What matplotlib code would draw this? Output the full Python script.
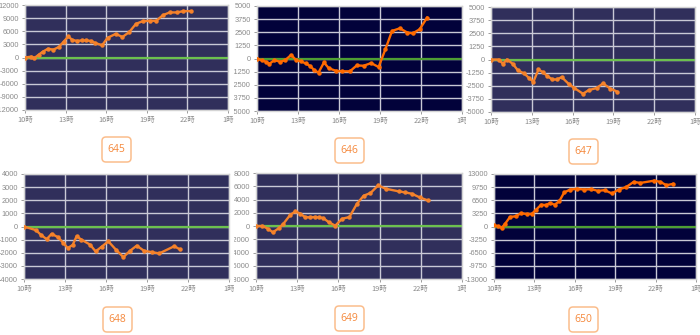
import numpy as np
import matplotlib
matplotlib.use("Agg")
import matplotlib.pyplot as plt
import matplotlib.transforms as mtransforms
from matplotlib.patches import FancyBboxPatch

# machine numbers
machines = ["645", "646", "647", "648", "649", "650"]

# hour of day (25 = 1時 next day) and balance for each machine
t645 = [10.0, 10.47, 10.7, 11.0, 11.3, 11.7, 12.1, 12.5, 12.85, 13.2, 13.5, 13.85, 14.2, 14.5, 14.85,
        15.2, 15.7, 16.1, 16.7, 17.2, 17.7, 18.2, 18.7, 19.2, 19.7, 20.2, 20.7, 21.2, 21.7, 22.27]
v645 = [0, 200, -100, 600, 1300, 2000, 1800, 2400, 3600, 4800, 4000, 3800, 3900, 3900, 3800,
        3300, 2800, 4500, 5400, 4700, 5800, 7700, 8300, 8400, 8400, 9700, 10300, 10300, 10600, 10600]

t646 = [10.0, 10.37, 10.66, 10.9, 11.28, 11.7, 12.06, 12.5, 12.87, 13.24, 13.56, 13.9, 14.2, 14.5, 14.9,
        15.26, 15.75, 16.2, 16.8, 17.3, 17.8, 18.35, 18.9, 19.4, 19.88, 20.45, 21.0, 21.4, 21.9, 22.45]
v646 = [0, -190, -310, -500, -160, -310, -160, 340, -160, -280, -470, -720, -1125, -1340, -375,
        -940, -1160, -1220, -1220, -660, -690, -440, -810, 900, 2625, 2875, 2470, 2400, 2780, 3900]

t647 = [10.0, 10.56, 10.88, 11.17, 11.6, 11.98, 12.44, 12.8, 13.12, 13.49, 13.8, 14.15, 14.5, 14.83,
        15.2, 15.7, 16.1, 16.76, 17.2, 17.76, 18.24, 18.78, 19.3]
v647 = [0, 0, -410, 0, -410, -1040, -1330, -1770, -2120, -950, -1200, -1580, -1900, -1900,
        -1680, -2310, -2690, -3260, -2910, -2720, -2280, -2780, -3070]

t648 = [10.0, 10.88, 11.22, 11.66, 12.02, 12.5, 12.88, 13.2, 13.56, 13.85, 14.2, 14.83, 15.24, 15.68,
        16.17, 16.73, 17.27, 17.76, 18.25, 18.78, 19.34, 19.9, 21.0, 21.4]
v648 = [0, -280, -620, -970, -560, -820, -1260, -1640, -1410, -740, -1000, -1380, -1900, -1540,
        -1130, -1770, -2330, -1850, -1460, -1850, -1950, -2050, -1500, -1740]

t649 = [10.0, 10.47, 10.86, 11.23, 11.65, 12.0, 12.5, 12.87, 13.24, 13.56, 13.93, 14.27, 14.6, 14.9,
        15.28, 15.77, 16.27, 16.8, 17.35, 17.84, 18.33, 18.9, 19.43, 20.42, 20.86, 21.35, 21.92, 22.5]
v649 = [0, 0, -400, -950, -350, 350, 1700, 2200, 1850, 1350, 1300, 1350, 1300, 1200,
        600, 50, 1100, 1350, 3350, 4570, 4970, 6130, 5630, 5220, 5070, 4870, 4320, 3870]

t650 = [10.0, 10.32, 10.57, 10.82, 11.19, 11.6, 12.0, 12.43, 12.8, 13.13, 13.5, 13.85, 14.17, 14.5,
        14.84, 15.21, 15.66, 16.15, 16.7, 17.22, 17.72, 18.21, 18.76, 19.26, 19.8, 20.37, 20.87,
        21.91, 22.36, 22.8, 23.28]
v650 = [250, 80, -330, 650, 2370, 2530, 3270, 3110, 3110, 4170, 5400, 5310, 5800, 5400,
        6210, 8420, 9160, 9320, 9160, 9240, 8830, 9000, 8180, 9160, 9730, 11040, 10790,
        11360, 11040, 10220, 10550]

y_limits = [12000, 5000, 5000, 4000, 8000, 13000]
x_hours = [10, 13, 16, 19, 22, 25]
x_labels = ["10時", "13時", "16時", "19時", "22時", "1時"]

times = [t645, t646, t647, t648, t649, t650]
values = [v645, v646, v647, v648, v649, v650]

# pixel boxes of the plot areas (left, top, right, bottom) and label boxes
W, H = 700, 335
plot_px = [(25, 5, 228, 110), (257, 6, 462, 111), (491, 7, 695, 112),
           (24, 174, 229, 279), (256, 173, 462, 279), (494, 174, 696, 279)]
box_px = [(102, 137), (335, 138), (569, 139), (103, 307), (335, 306), (569, 307)]
cell_px = [(0, 234), (234, 466), (465, 700), (0, 234), (234, 466), (465, 700)]
dark = [False, True, False, False, False, True]

jp = ["Noto Sans CJK JP", "DejaVu Sans"]

fig = plt.figure(figsize=(W / 100, H / 100), dpi=100)
fig.patch.set_facecolor("white")

for i in range(6):
    l, t, r, b = plot_px[i]
    ax = fig.add_axes([l / W, 1 - b / H, (r - l) / W, (b - t) / H])
    lim = y_limits[i]
    bg = "#02023a" if dark[i] else "#302f5b"
    lc = "#ff6a00" if dark[i] else "#f5822a"
    gc = "#4e9e34" if dark[i] else "#6cc04e"
    ax.set_facecolor(bg)
    ax.set_xlim(10, 25)
    ax.set_ylim(-lim, lim)
    ax.set_yticks(np.linspace(-lim, lim, 9))
    ax.set_yticklabels([str(int(v)) for v in np.linspace(-lim, lim, 9)], family="Liberation Sans")
    ax.set_xticks(x_hours)
    ax.set_xticklabels(x_labels, family=jp)
    ax.grid(True, color="#c9c9d6", lw=1.0)
    ax.set_axisbelow(True)
    ax.axhline(0, color=gc, lw=1.6, zorder=2)
    ax.plot(times[i], values[i], color=lc, lw=1.7, marker="o", ms=2.2, zorder=3)
    ax.tick_params(labelsize=5.3, colors="#8a8a8a", length=2.2, width=0.6, pad=2.2)
    for s in ax.spines.values():
        s.set_color("#d4d4d4")
        s.set_linewidth(1.0)

    # clip tick labels to their page cell
    c0, c1 = cell_px[i]
    clip = mtransforms.Bbox([[c0, 0], [c1, H]])
    for lbl in ax.get_yticklabels() + ax.get_xticklabels():
        lbl.set_clip_box(clip)
        lbl.set_clip_on(True)

    # machine number box
    bx, by = box_px[i]
    patch = FancyBboxPatch((bx, H - by - 25), 29, 25,
                           boxstyle="round,pad=0,rounding_size=4",
                           transform=mtransforms.IdentityTransform(),
                           facecolor="white", edgecolor="#fbbd8c", lw=1.1)
    fig.patches.append(patch)
    fig.text((bx + 14.5) / W, 1 - (by + 12.5) / H, machines[i], color="#f5883b",
             fontsize=7.5, ha="center", va="center", family="Open Sans")

fig.savefig("out.png", dpi=100)
